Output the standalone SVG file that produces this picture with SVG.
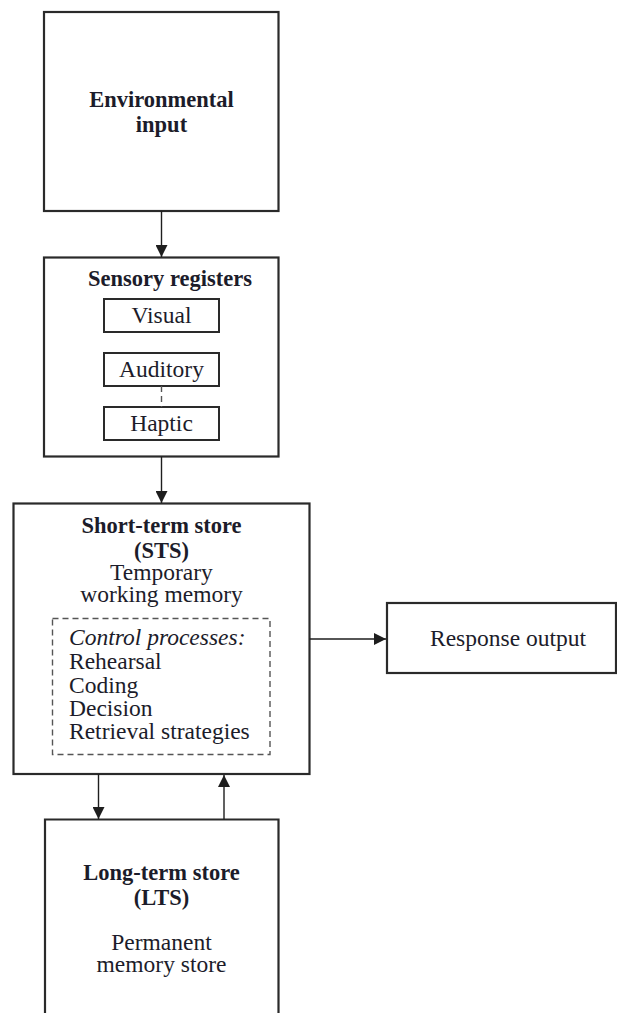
<svg xmlns="http://www.w3.org/2000/svg" width="617" height="1013" viewBox="0 0 617 1013">
<defs>
<marker id="ah" viewBox="0 0 12 12" refX="12" refY="6" markerWidth="12" markerHeight="12" markerUnits="userSpaceOnUse" orient="auto">
<path d="M0,0 L12,6 L0,12 Z" fill="#1e1e1e"/>
</marker>
<style>
.box{fill:#fff;stroke:#2a2a2a;stroke-width:2.2}
.sbox{fill:#fff;stroke:#2a2a2a;stroke-width:2}
.dash{fill:none;stroke:#555;stroke-width:1.4;stroke-dasharray:6,4}
.con{fill:none;stroke:#1e1e1e;stroke-width:1.4}
text{font-family:"Liberation Serif","Times New Roman",serif;fill:#1c1c2a}
.b{font-weight:bold;font-size:22.5px}
.r{font-size:23.5px}
.c{text-anchor:middle}
.i{font-style:italic}
</style>
</defs>
<g id="environmental-input">
<rect class="box" x="44" y="12" width="234.5" height="199"/>
<text class="b c" x="161.5" y="107">Environmental</text>
<text class="b c" x="161.5" y="132">input</text>
</g>
<g id="sensory-registers">
<rect class="box" x="44" y="257.5" width="234.5" height="199"/>
<text class="b c" x="170" y="286">Sensory registers</text>
<g id="visual">
<rect class="sbox" x="104" y="299" width="115" height="33"/>
<text class="r c" x="161.5" y="323">Visual</text>
</g>
<g id="auditory">
<rect class="sbox" x="104" y="353" width="115" height="33"/>
<text class="r c" x="161.5" y="377">Auditory</text>
</g>
<g id="haptic">
<rect class="sbox" x="104" y="407" width="115" height="33"/>
<text class="r c" x="161.5" y="431">Haptic</text>
</g>
</g>
<g id="short-term-store">
<rect class="box" x="13.5" y="503.5" width="296" height="270.5"/>
<text class="b c" x="161.5" y="533">Short-term store</text>
<text class="b c" x="161.5" y="558">(STS)</text>
<text class="r c" x="161.5" y="580">Temporary</text>
<text class="r c" x="161.5" y="602">working memory</text>
<rect class="dash" x="52.5" y="618.5" width="217.5" height="136"/>
<text class="r i" x="69" y="645">Control processes:</text>
<text class="r" x="69" y="669">Rehearsal</text>
<text class="r" x="69" y="692.5">Coding</text>
<text class="r" x="69" y="716">Decision</text>
<text class="r" x="69" y="739">Retrieval strategies</text>
</g>
<g id="response-output">
<rect class="box" x="387" y="603" width="229" height="70"/>
<text class="r c" x="508" y="646">Response output</text>
</g>
<g id="long-term-store">
<path class="box" d="M45,1013 L45,819.5 L278.5,819.5 L278.5,1013" fill="#fff"/>
<text class="b c" x="161.5" y="879.5">Long-term store</text>
<text class="b c" x="161.5" y="905">(LTS)</text>
<text class="r c" x="161.5" y="950">Permanent</text>
<text class="r c" x="161.5" y="972">memory store</text>
</g>
<g id="connectors">
<line class="con" x1="161.5" y1="211" x2="161.5" y2="257" marker-end="url(#ah)"/>
<path class="dash" d="M161.5,386 L161.5,407" stroke-dasharray="3,3"/>
<line class="con" x1="161.5" y1="456.5" x2="161.5" y2="503" marker-end="url(#ah)"/>
<line class="con" x1="309.5" y1="639" x2="386" y2="639" marker-end="url(#ah)"/>
<line class="con" x1="98.5" y1="774" x2="98.5" y2="819" marker-end="url(#ah)"/>
<line class="con" x1="224" y1="819.5" x2="224" y2="775" marker-end="url(#ah)"/>
</g>
</svg>
